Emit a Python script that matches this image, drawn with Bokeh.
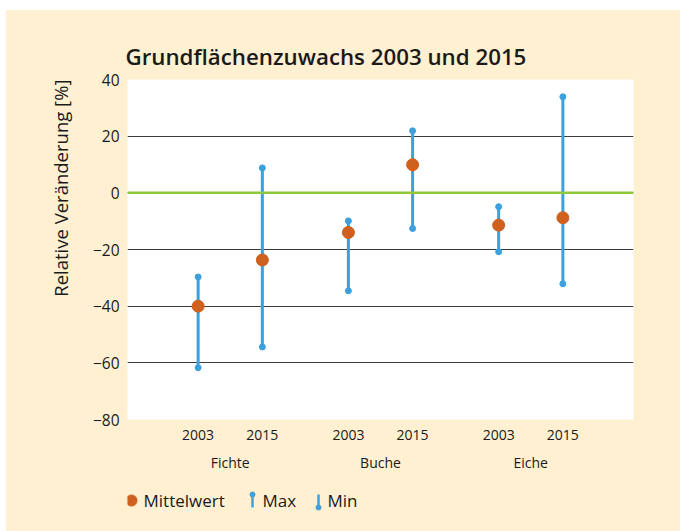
from bokeh.plotting import figure
from bokeh.models import (FactorRange, Range1d, FixedTicker, Span, Title,
                          ColumnDataSource, CustomJSTickFormatter)
from bokeh.layouts import column
from bokeh.embed import file_html
from bokeh.resources import INLINE
from bokeh.core.properties import value

# ---- data ----
species = ["Fichte", "Buche", "Eiche"]
years = ["2003", "2015"]
mean_vals = [-40.0, -23.7, -14.0, 9.9, -11.4, -8.8]
max_vals = [-29.7, 8.8, -9.9, 21.9, -4.9, 33.9]
min_vals = [-61.7, -54.4, -34.6, -12.6, -20.8, -32.1]
y_ticks = [-80, -60, -40, -20, 0, 20, 40]

title_text = "Grundflächenzuwachs 2003 und 2015"
y_label = "Relative Veränderung [%]"
legend_labels = ["Mittelwert", "Max", "Min"]

# ---- style ----
BG = "#fff0d2"
ORANGE = "#d0601e"
BLUE = "#3ca0dc"
GREEN = "#8dc63f"
GRID = "#3a3a3a"
FONT = "Open Sans"
TITLE_FONT = "'Open Sans SemiBold', 'Open Sans'"
TXT = "#1a1a1a"

W, H_MAIN, H_LEG = 674, 465, 56
BL, BR = 121, 47
GROUP_PAD = 0.34

factors = [(s, y) for s in species for y in years]
src = ColumnDataSource(dict(x=factors, mean=mean_vals, mx=max_vals, mn=min_vals))

p = figure(width=W, height=H_MAIN, output_backend="svg", toolbar_location=None,
           x_range=FactorRange(*factors, factor_padding=0, group_padding=GROUP_PAD,
                               range_padding=0.6, range_padding_units="absolute"),
           y_range=Range1d(-80, 40),
           min_border_left=BL, min_border_right=BR, min_border_top=69,
           min_border_bottom=56)
p.background_fill_color = "white"
p.border_fill_color = BG
p.outline_line_color = None

p.title = Title(text=title_text, align="left", offset=-2, standoff=16,
                text_font=TITLE_FONT, text_font_size="22.3px", text_font_style="normal",
                text_color=TXT)
p.add_layout(Title(text=y_label, align="right", standoff=33, text_font=FONT,
                   text_font_size="18.5px", text_font_style="normal",
                   text_color=TXT), "left")

# y axis
p.yaxis.ticker = FixedTicker(ticks=y_ticks)
p.yaxis.formatter = CustomJSTickFormatter(
    code="return tick < 0 ? '\\u2212' + Math.abs(tick) : '' + tick;")
p.yaxis.axis_line_color = None
p.yaxis.major_tick_line_color = None
p.yaxis.minor_tick_line_color = None
p.yaxis.major_tick_out = 0
p.yaxis.major_tick_in = 0
p.yaxis.minor_tick_out = 0
p.yaxis.major_label_standoff = 8
p.yaxis.major_label_text_font = FONT
p.yaxis.major_label_text_font_size = "15.5px"
p.yaxis.major_label_text_color = TXT

# x axis: years as tick labels, species as group labels
p.xaxis.axis_line_color = None
p.xaxis.major_tick_line_color = None
p.xaxis.minor_tick_line_color = None
p.xaxis.major_tick_out = 0
p.xaxis.major_tick_in = 0
p.xaxis.major_label_standoff = 10
p.xaxis.major_label_text_font = FONT
p.xaxis.major_label_text_font_size = "14px"
p.xaxis.major_label_text_color = TXT
p.xaxis.group_text_font = FONT
p.xaxis.group_text_font_size = "14px"
p.xaxis.group_text_font_style = "normal"
p.xaxis.group_text_color = TXT
p.xaxis.separator_line_alpha = 0

# grid
p.xgrid.grid_line_color = None
p.ygrid.ticker = FixedTicker(ticks=y_ticks)
p.ygrid.grid_line_color = GRID
p.ygrid.grid_line_width = 1.2

p.add_layout(Span(location=0, dimension="width", line_color=GREEN, line_width=2.5))

# data glyphs
p.segment(x0="x", y0="mn", x1="x", y1="mx", source=src, line_color=BLUE, line_width=3)
p.scatter(x="x", y="mx", source=src, size=6, color=BLUE)
p.scatter(x="x", y="mn", source=src, size=6, color=BLUE)
p.scatter(x="x", y="mean", source=src, size=12, color=ORANGE)

# ---- legend strip (frame aligned with the main plot; ranges in page pixels) ----
lg = figure(width=W, height=H_LEG, output_backend="svg", toolbar_location=None,
            x_range=Range1d(127, 633), y_range=Range1d(531, 475),
            min_border_left=BL, min_border_right=BR, min_border_top=0,
            min_border_bottom=0)
lg.axis.visible = False
lg.grid.visible = False
lg.background_fill_alpha = 0
lg.border_fill_color = BG
lg.outline_line_color = None

lg.scatter(x=[131], y=[500], size=11, color=ORANGE)
lg.segment(x0=[252, 318], y0=[494, 494], x1=[252, 318], y1=[507, 507],
           line_color=BLUE, line_width=2.5)
lg.scatter(x=[252, 318], y=[494, 507], size=5, color=BLUE)
lg.text(x=[143, 262, 327], y=[500, 500, 500], text=legend_labels,
        text_font=value(FONT), text_font_size="17px", text_baseline="middle",
        text_color=TXT)

layout = column(p, lg, spacing=0, margin=(10, 0, 0, 6),
                styles={"background-color": BG})
open("out.html", "w").write(file_html(layout, INLINE))
